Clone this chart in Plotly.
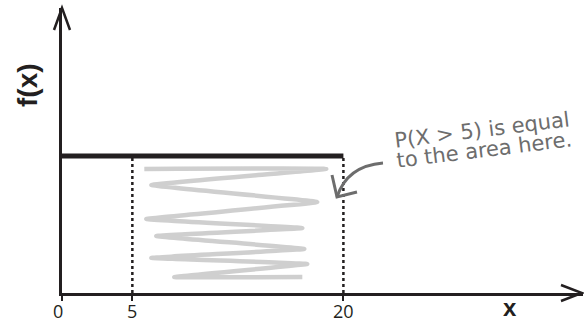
import plotly.graph_objects as go

# Uniform distribution on [0, 20]
x_min, x_max = 0, 20
density = 1 / 20
a_val = 5
tick_vals = [0, 5, 20]
tick_text = ["0", "5", "20"]

# shading scribble (data units)
scribble_x = [5.85, 18.78, 6.35, 18.14, 5.99, 17.08, 6.70, 17.22, 6.35, 17.43, 7.98, 17.08]
scribble_y = [0.0453, 0.0453, 0.0394, 0.0332, 0.0270, 0.0237, 0.0208, 0.0161, 0.0128, 0.0106, 0.0058, 0.0058]

note_lines = ["P(X > 5) is equal", "to the area here."]

INK = "#231f20"
GREY = "#6d6d6d"

PL, PB, PW, PH = 62, 29, 521, 285  # plot-area geometry in pixels
px_per_unit = 14.07

fig = go.Figure()

# scribble shading
fig.add_trace(go.Scatter(x=scribble_x, y=scribble_y, mode="lines",
                         line=dict(color="rgba(160,160,160,0.5)", width=4.5, shape="spline", smoothing=0.2),
                         hoverinfo="skip", showlegend=False))

# dotted verticals
for xv in [a_val, x_max]:
    fig.add_trace(go.Scatter(x=[xv, xv], y=[0, density], mode="lines",
                             line=dict(color=INK, width=2.5, dash="dot"),
                             hoverinfo="skip", showlegend=False))

# density line
fig.add_trace(go.Scatter(x=[x_min, x_max], y=[density, density], mode="lines",
                         line=dict(color=INK, width=5),
                         hoverinfo="skip", showlegend=False))

shapes = []
# arrowheads on axes (pixel offsets anchored at axis ends)
shapes.append(dict(type="path", xref="paper", yref="paper", xsizemode="pixel", ysizemode="pixel",
                   xanchor=0, yanchor=1, path="M -8,-22 L 0,0 L 8,-22",
                   line=dict(color=INK, width=2.5)))
shapes.append(dict(type="path", xref="paper", yref="paper", xsizemode="pixel", ysizemode="pixel",
                   xanchor=1, yanchor=0, path="M -22,8 L -1,0 L -22,-8",
                   line=dict(color=INK, width=2.5)))
# curved callout arrow (pixel offsets from plot origin)
shapes.append(dict(type="path", xref="paper", yref="paper", xsizemode="pixel", ysizemode="pixel",
                   xanchor=0, yanchor=0,
                   path="M 321,130 Q 285,127 275,96",
                   line=dict(color=GREY, width=3)))
shapes.append(dict(type="path", xref="paper", yref="paper", xsizemode="pixel", ysizemode="pixel",
                   xanchor=0, yanchor=0,
                   path="M 270,118 L 275,96 L 295,101",
                   line=dict(color=GREY, width=3)))
fig.update_layout(shapes=shapes)

# tick labels
for tv, tt in zip(tick_vals, tick_text):
    fig.add_annotation(x=tv, xref="x", yref="paper", y=-(311 - 293) / PH,
                       xshift=-4 if tv == 0 else 0,
                       text=tt, showarrow=False, xanchor="center", yanchor="middle",
                       font=dict(family="Open Sans", size=18, color=INK))

# handwritten-style note, one annotation per line
for (cx, cy), line in zip([(482, 130), (484, 150)], note_lines):
    fig.add_annotation(xref="paper", yref="paper", x=(cx - PL) / PW, y=(293 - cy) / PH,
                       text=line, showarrow=False, textangle=-7,
                       xanchor="center", yanchor="middle",
                       font=dict(family="DejaVu Sans", size=21, color=GREY))
fig.add_annotation(xref="paper", yref="paper", x=(510 - PL) / PW, y=-(307 - 293) / PH,
                   text="<b>x</b>", showarrow=False, xanchor="center", yanchor="middle",
                   font=dict(family="Liberation Sans", size=24, color=INK))
fig.add_annotation(xref="paper", yref="paper", x=-(PL - 28) / PW, y=(293 - 85) / PH,
                   text="<b>f(x)</b>", showarrow=False, textangle=-90,
                   xanchor="center", yanchor="middle",
                   font=dict(family="Liberation Sans", size=28, color=INK))

fig.update_layout(
    width=584, height=322,
    margin=dict(l=PL, r=1, t=8, b=PB),
    paper_bgcolor="white", plot_bgcolor="white",
    xaxis=dict(range=[0, PW / px_per_unit], showgrid=False, zeroline=False,
               showline=True, linecolor=INK, linewidth=3,
               tickvals=tick_vals, showticklabels=False, ticks="outside", ticklen=5,
               tickwidth=2, tickcolor=INK),
    yaxis=dict(range=[0, PH / 137 * density], showgrid=False, zeroline=False,
               showline=True, linecolor=INK, linewidth=3, showticklabels=False, ticks=""),
)

fig.write_html("out.html", config={"displayModeBar": False},
               post_script="document.body.style.margin='0';document.body.style.overflow='hidden';")
